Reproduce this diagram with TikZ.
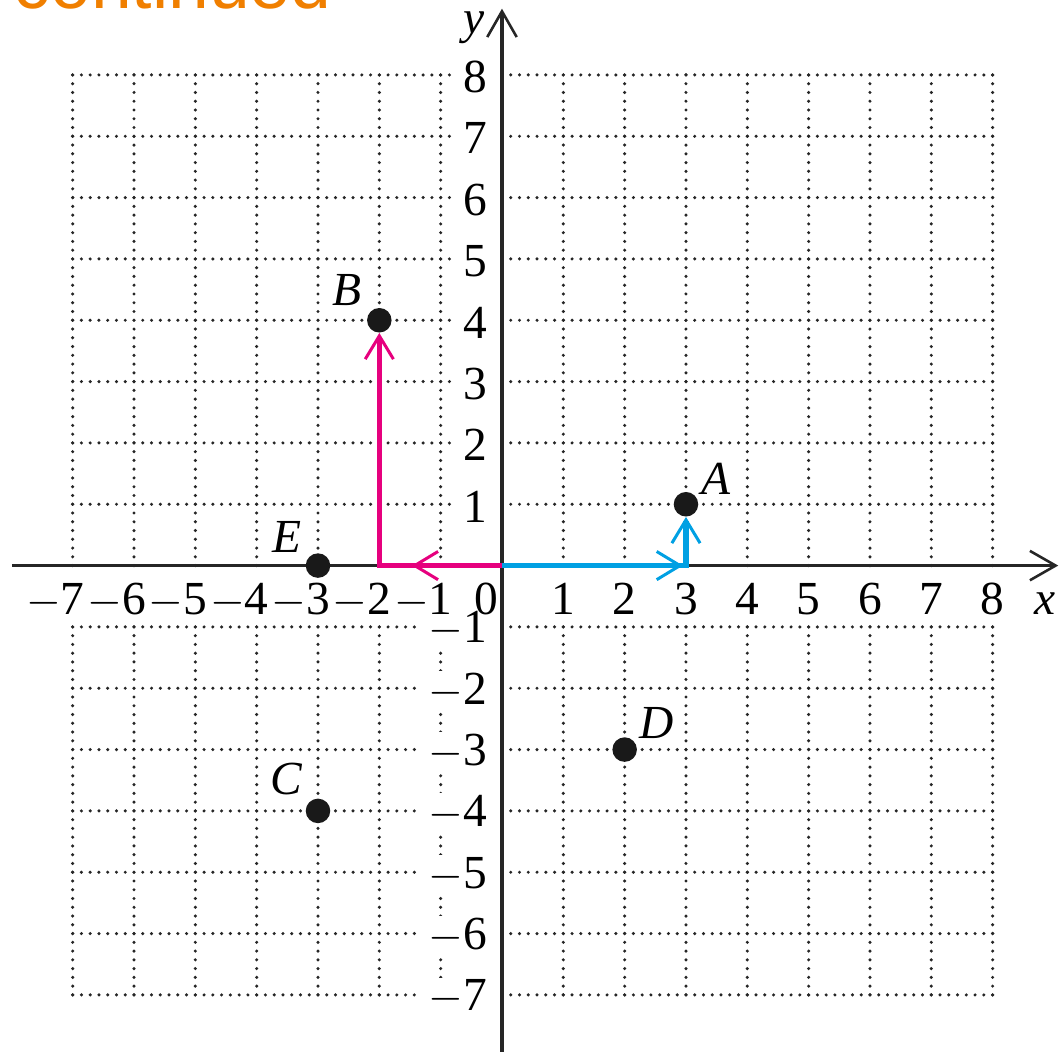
\documentclass[tikz,border=0pt]{standalone}
\usepackage{fontspec}
\setmainfont{Liberation Serif}
\newfontfamily\headfont{Liberation Sans}
\usepackage{xcolor}
\usetikzlibrary{arrows.meta, positioning, decorations.markings}

\definecolor{pathblue}{RGB}{0,160,227}
\definecolor{pathpink}{RGB}{230,0,126}
\definecolor{headorange}{RGB}{240,127,0}

\begin{document}
\begin{tikzpicture}[
  font=\fontsize{22}{26}\selectfont,
  griddot/.style={
    black!85,
    line width=1.6pt,
    line cap=round,
    dash pattern=on 0pt off 0.142857cm
  },
  axis/.style={
    black!85,
    line width=1.4pt,
    -{Straight Barb[length=4.2mm, width=4.8mm, line width=1.2pt]}
  },
  xnum/.style={anchor=base, inner sep=0pt},
  ynum/.style={
    anchor=east,
    fill=white,
    inner xsep=4pt,
    inner ysep=1pt,
    yshift=-1pt
  },
  ptdot/.style={
    circle,
    fill=black!90,
    inner sep=0pt,
    minimum size=4mm
  },
  ptname/.style={font=\fontsize{22}{26}\selectfont\itshape},
  walk/.style={
    color=#1,
    line width=2.4pt,
    line join=miter,
    -{Straight Barb[length=3.8mm, width=4.6mm, line width=1.4pt]}
  },
  midtip/.style={
    postaction={decorate},
    decoration={markings,
      mark=at position #1 with {\arrow{Straight Barb[length=3.8mm, width=4.6mm, line width=1.4pt]}}}
  }
]

\useasboundingbox (-8.185,-7.915) rectangle (9.082,9.222);

% --- Dotted grid -----------------------------------------------------

\foreach \j in {-7,...,-1,1,2,...,8}
  \draw[griddot] (-7,\j) -- (8,\j);

\foreach \i in {-7,...,-1,1,2,...,8} {
  \draw[griddot] (\i,0) -- (\i,8);
  \draw[griddot] (\i,-1) -- (\i,-7);
}

% --- Tick labels -----------------------------------------------------

\foreach \j in {1,...,8}
  \node[ynum] (yp\j) at (-0.1,\j) {\j};
\foreach \j in {1,...,7}
  \node[ynum] (ym\j) at (-0.1,-\j) {$-$\j};

\foreach \i in {1,...,8}
  \node[xnum] (xp\i) at (\i,-0.79) {\i};
\foreach \i in {1,...,7}
  \node[xnum] (xm\i) at (-\i,-0.79) {\llap{$-$}\i};

\node[xnum] (zero) at (-0.25,-0.79) {0};

% --- Axes ------------------------------------------------------------

\coordinate (xl) at (-7.99,0);
\coordinate (xr) at (9.07,0);
\coordinate (yb) at (0,-7.95);
\coordinate (yt) at (0,9.08);

\draw[axis] (xl) -- (xr);
\draw[axis] (yb) -- (yt);

\node[ptname, anchor=base] (xname) at (8.86,-0.79) {x};
\node[ptname, anchor=base] (yname) at (-0.46,8.67) {y};

% --- Points ----------------------------------------------------------

\node[ptdot] (a) at (3,1) {};
\node[ptdot] (b) at (-2,4) {};
\node[ptdot] (c) at (-3,-4) {};
\node[ptdot] (d) at (2,-3) {};
\node[ptdot] (e) at (-3,0) {};

\node[ptname] (an) at (3.49,1.41) {A};
\node[ptname] (bn) at (-2.53,4.50) {B};
\node[ptname] (cn) at (-3.51,-3.48) {C};
\node[ptname] (dn) at (2.52,-2.57) {D};
\node[ptname] (en) at (-3.51,0.47) {E};

% --- Moves from the origin -------------------------------------------

\coordinate (o) at (0,0);
\coordinate (ac) at (3,0);
\coordinate (bc) at (-2,0);

\draw[walk=pathblue, midtip=2.95cm] (o) -- (ac) -- (a);
\draw[walk=pathpink, midtip=1.47cm] (o) -- (bc) -- (b);

% --- Page heading (cut off) ------------------------------------------

\node[anchor=base west, inner sep=0pt, text=headorange,
  font=\headfont\fontsize{34}{40}\selectfont] (cont) at (-7.97,9.08) {continued};

\end{tikzpicture}
\end{document}
